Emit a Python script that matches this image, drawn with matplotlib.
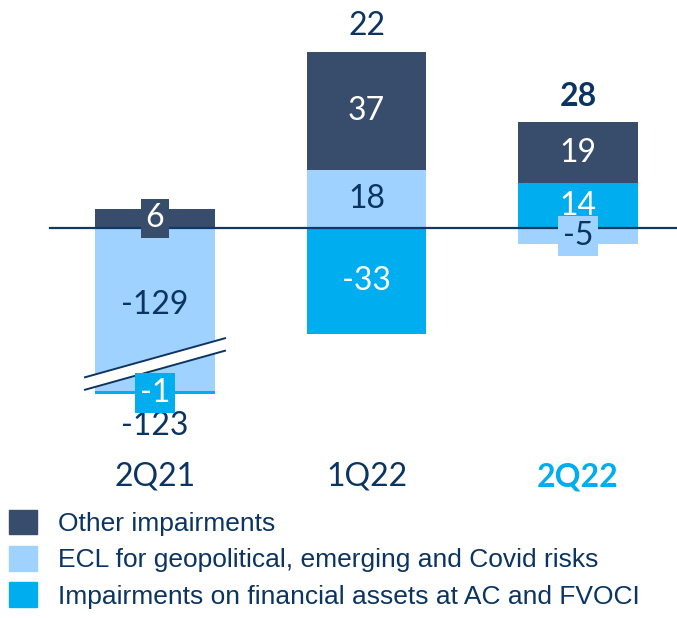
import matplotlib.pyplot as plt
from matplotlib.patches import Patch
import numpy as np

quarters = ['2Q21', '1Q22', '2Q22']
other_imp = [6, 37, 19]
ecl_risks = [-129, 18, -5]
fin_assets = [-1, -33, 14]
totals = [-123, 22, 28]

# 2Q21 ECL bar is drawn with a broken scale
gap = [78, 0, 0]

dark = '#384c6c'
light = '#a0d2ff'
cyan = '#00aeef'
navy = '#0b3463'

fig = plt.figure(figsize=(6.77, 6.18), dpi=100)
ax = fig.add_axes([0, 0, 1, 1])
ax.set_xlim(-155 / 211.5, (677 - 155) / 211.5)
ax.set_ylim(-(618 - 228) / 3.2, 228 / 3.2)
ax.axis('off')

x = np.arange(len(quarters))
w = 0.566
num_font = 'Lato'

names = {'other': 'Other impairments',
         'ecl': 'ECL for geopolitical, emerging and Covid risks',
         'fin': 'Impairments on financial assets at AC and FVOCI'}
# stacking order away from zero: ECL, financial assets, other
stack = [(ecl_risks, light), (fin_assets, cyan), (other_imp, dark)]
pos_base = np.zeros(3)
neg_base = np.zeros(3)
segs = []
for vals, col in stack:
    for i, v in enumerate(vals):
        shown = v + gap[i] if (v < 0 and abs(v) > gap[i] and gap[i] > 0) else v
        if v >= 0:
            bottom = pos_base[i]
            pos_base[i] += shown
        else:
            bottom = neg_base[i]
            neg_base[i] += shown
        ax.bar(x[i], shown, w, bottom=bottom, color=col, zorder=2)
        segs.append((i, v, bottom + shown / 2, col))

ax.plot([-0.496, 3], [0, 0], color='#123866', lw=1.6, zorder=3)

# break marker on 2Q21
bx, by = x[0], -42.5
hw, rise, th = 0.331, 6.1, 3.9
xs = [bx - hw, bx + hw, bx + hw, bx - hw]
ys = [by - rise + th / 2, by + rise + th / 2, by + rise - th / 2, by - rise - th / 2]
ax.fill(xs, ys, color='white', zorder=4)
ax.plot(xs[:2], ys[:2], color=navy, lw=1.4, zorder=5)
ax.plot(xs[2:], ys[2:], color=navy, lw=1.4, zorder=5)

small = {(0, 6): dark, (0, -1): cyan, (2, -5): light}
for i, v, yc, col in segs:
    tc = navy if col == light else 'white'
    kw = {}
    z = 6
    if (i, v) in small:
        kw['bbox'] = dict(boxstyle='square,pad=0.15', fc=small[(i, v)], ec='none')
        z = 7
    if (i, v) == (0, -129):
        yc += 1.5
    ax.text(x[i], yc, str(v), ha='center', va='center', fontsize=23,
            family=num_font, color=tc, zorder=z, **kw)

for i, t in enumerate(totals):
    if t >= 0:
        y = pos_base[i]
        ax.annotate(str(t), (x[i], y), xytext=(0, 19), textcoords='offset points',
                    ha='center', va='center', fontsize=23, family=num_font, color=navy,
                    fontweight='bold' if i == 2 else 'normal', zorder=6)
    else:
        y = neg_base[i]
        ax.annotate(str(t), (x[i], y), xytext=(0, -23), textcoords='offset points',
                    ha='center', va='center', fontsize=23, family=num_font, color=navy, zorder=6)

for i, q in enumerate(quarters):
    ax.text(x[i], -(477 - 228) / 3.2, q, ha='center', va='center', fontsize=23,
            family=num_font, color=cyan if i == 2 else navy,
            fontweight='bold' if i == 2 else 'normal')

handles = [Patch(color=dark, label=names['other']),
           Patch(color=light, label=names['ecl']),
           Patch(color=cyan, label=names['fin'])]
fig.legend(handles=handles, loc='lower left', bbox_to_anchor=(0.0, 0.0),
           frameon=False, labelcolor=navy,
           prop={'family': 'Liberation Sans', 'size': 19},
           handlelength=1.06, handleheight=1.06, handletextpad=0.8,
           labelspacing=0.38, borderpad=0.25, borderaxespad=0.1)

fig.savefig('out.png', dpi=100)
